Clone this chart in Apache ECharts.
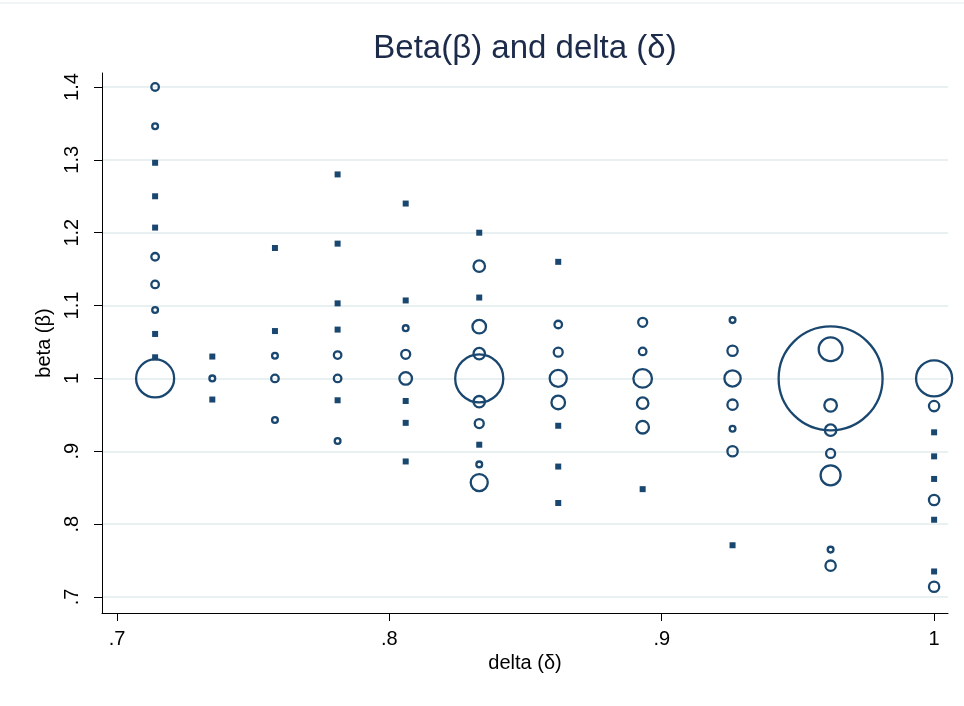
<!DOCTYPE html>
<html>
<head>
<meta charset="utf-8">
<script src="https://cdn.jsdelivr.net/npm/echarts@6/dist/echarts.min.js"></script>
<style>
  html, body { margin: 0; padding: 0; background: #fff; }
  #chart { width: 964px; height: 706px; }
</style>
</head>
<body>
<div id="chart"></div>
<script>
// one column of points per delta value
const deltaValues = [0.714, 0.735, 0.758, 0.781, 0.806, 0.833, 0.862, 0.893, 0.926, 0.962, 1.0];

const betaByDelta = [
  [1.4, 1.346, 1.296, 1.25, 1.207, 1.167, 1.129, 1.094, 1.061, 1.029, 1.0],
  [1.03, 1.0, 0.971],
  [1.179, 1.065, 1.031, 1.0, 0.943],
  [1.28, 1.185, 1.103, 1.067, 1.032, 1.0, 0.97, 0.914],
  [1.24, 1.107, 1.069, 1.033, 1.0, 0.969, 0.939, 0.886],
  [1.2, 1.154, 1.111, 1.071, 1.034, 1.0, 0.968, 0.938, 0.909, 0.882, 0.857],
  [1.16, 1.074, 1.036, 1.0, 0.967, 0.935, 0.879, 0.829],
  [1.077, 1.037, 1.0, 0.966, 0.933, 0.848],
  [1.08, 1.038, 1.0, 0.964, 0.931, 0.9, 0.771],
  [1.04, 1.0, 0.963, 0.929, 0.897, 0.867, 0.765, 0.743],
  [1.0, 0.962, 0.926, 0.893, 0.862, 0.833, 0.806, 0.735, 0.714]
];

// frequency weights (marker area)
const countByDelta = [
  [3, 2, 1, 1, 1, 3, 3, 2, 1, 1, 53],
  [1, 2, 1],
  [1, 1, 2, 3, 2],
  [1, 1, 1, 1, 3, 3, 1, 2],
  [1, 1, 2, 4, 7, 1, 1, 1],
  [1, 6, 1, 8, 6, 83, 6, 4, 1, 2, 12],
  [1, 3, 4, 12, 8, 1, 1, 1],
  [4, 3, 14, 6, 7, 1],
  [2, 5, 11, 5, 2, 5, 1],
  [22, 371, 7, 6, 4, 16, 2, 5],
  [48, 5, 1, 1, 1, 5, 1, 1, 5]
];

const xTicks = [0.7, 0.8, 0.9, 1.0];
const yTicks = [0.7, 0.8, 0.9, 1.0, 1.1, 1.2, 1.3, 1.4];

const navy = '#1a476f';
const font = 'Liberation Sans, Arial, sans-serif';

const singles = [];
const weighted = [];
deltaValues.forEach(function (d, i) {
  betaByDelta[i].forEach(function (b, j) {
    const w = countByDelta[i][j];
    if (w === 1) singles.push([d, b, w]);
    else weighted.push([d, b, w]);
  });
});

function fmt(v) {
  return String(+v.toFixed(1)).replace(/^0\./, '.');
}

const chart = echarts.init(document.getElementById('chart'));
chart.setOption({
  backgroundColor: '#fff',
  animation: false,
  title: {
    text: 'Beta(\u03b2) and delta (\u03b4)',
    left: 525,
    top: 32,
    padding: 0,
    textAlign: 'center',
    textStyle: { fontFamily: font, fontSize: 33, fontWeight: 'normal', color: '#1c2b4a' }
  },
  graphic: [
    { type: 'line', shape: { x1: 0, y1: 3, x2: 964, y2: 3 }, style: { stroke: '#e4eaed', lineWidth: 1 } }
  ],
  grid: { left: 102, right: 16, top: 73, bottom: 93 },
  xAxis: {
    type: 'value',
    min: 0.6945,
    max: 1.0051,
    name: 'delta (\u03b4)',
    nameLocation: 'middle',
    nameGap: 40,
    nameTextStyle: { fontFamily: font, fontSize: 20, color: '#000' },
    axisLine: { show: true, onZero: false, lineStyle: { color: '#000', width: 1 } },
    axisTick: { show: true, length: 8, customValues: xTicks, lineStyle: { color: '#000' } },
    axisLabel: { customValues: xTicks, formatter: fmt, margin: 16, fontFamily: font, fontSize: 20, color: '#000' },
    splitLine: { show: false }
  },
  yAxis: {
    type: 'value',
    min: 0.678,
    max: 1.4192,
    name: 'beta (\u03b2)',
    nameLocation: 'middle',
    nameGap: 47,
    nameRotate: 90,
    nameTextStyle: { fontFamily: font, fontSize: 20, color: '#000' },
    axisLine: { show: true, onZero: false, lineStyle: { color: '#000', width: 1 } },
    axisTick: { show: true, length: 8, customValues: yTicks, lineStyle: { color: '#000' } },
    axisLabel: { customValues: yTicks, formatter: fmt, rotate: 90, margin: 20, fontFamily: font, fontSize: 20, color: '#000' },
    splitLine: { show: true, lineStyle: { color: '#e9f0f2', width: 2 } }
  },
  series: [
    {
      name: 'single',
      type: 'scatter',
      data: singles,
      symbol: 'rect',
      symbolSize: 6,
      itemStyle: { color: navy, opacity: 1 }
    },
    {
      name: 'weighted',
      type: 'scatter',
      data: weighted,
      symbol: 'circle',
      symbolSize: function (v) { return 5.5 * Math.sqrt(v[2]) - 2; },
      itemStyle: { color: 'rgba(0,0,0,0)', borderColor: navy, borderWidth: 2.3, opacity: 1 }
    }
  ]
});
</script>
</body>
</html>
